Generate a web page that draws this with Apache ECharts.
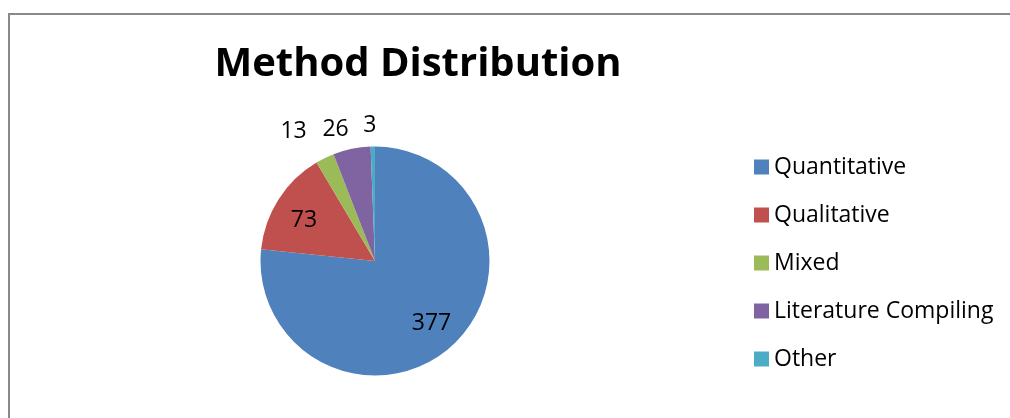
<!DOCTYPE html>
<html>
<head>
<meta charset="utf-8">
<script src="https://cdn.jsdelivr.net/npm/echarts@6/dist/echarts.min.js"></script>
<style>
  html, body { margin: 0; padding: 0; background: #fff; overflow: hidden; }
  #chart { position: relative; width: 1010px; height: 418px; }
  #frame {
    position: absolute; left: 8px; top: 13px;
    width: 1100px; height: 500px;
    border-top: 2px solid #898989;
    border-left: 2px solid #898989;
    pointer-events: none;
  }
</style>
</head>
<body>
<div id="chart"></div>
<div id="frame"></div>
<script>
// data
var methods = ['Quantitative', 'Qualitative', 'Mixed', 'Literature Compiling', 'Other'];
var counts = [377, 73, 13, 26, 3];
var colors = ['#4F81BD', '#C0504D', '#9BBB59', '#8064A2', '#4BACC6'];
// big slices carry the label inside, small ones outside
var inside = [true, true, false, false, false];
// label distance / nudges, so the labels sit like the original
var outLen = [0, 0, 30, 20, 21];
var outNudge = [0, 0, 0, 6, 9];
var inNudgeY = [0, 5, 0, 0, 0];

var chart = echarts.init(document.getElementById('chart'));
var font = '"Open Sans", sans-serif';

// visible pie, labels of the small slices outside
var pieData = methods.map(function (name, i) {
  return {
    name: name,
    value: counts[i],
    label: { show: !inside[i] },
    labelLine: { show: false, length: outLen[i], length2: 0 }
  };
});
// transparent ring, only used to put the inside labels further out
var ringData = methods.map(function (name, i) {
  return {
    name: name,
    value: counts[i],
    itemStyle: { color: 'rgba(0,0,0,0)' },
    label: { show: inside[i] }
  };
});

chart.setOption({
  animation: false,
  color: colors,
  title: {
    text: 'Method Distribution',
    left: 413,
    top: 40,
    textAlign: 'center',
    textStyle: { fontFamily: font, fontWeight: 'bold', fontSize: 40, color: '#000' }
  },
  legend: {
    orient: 'vertical',
    left: 749,
    top: 150,
    icon: 'rect',
    itemWidth: 15,
    itemHeight: 15,
    itemGap: 24,
    data: methods,
    textStyle: { fontFamily: font, fontSize: 23, lineHeight: 24, color: '#000' }
  },
  series: [
    {
      type: 'pie',
      center: [375, 261],
      radius: 114.5,
      startAngle: 90,
      clockwise: true,
      avoidLabelOverlap: false,
      silent: true,
      itemStyle: { borderWidth: 0 },
      label: {
        position: 'outside',
        formatter: '{c}',
        fontFamily: font,
        fontSize: 23,
        color: '#000'
      },
      labelLayout: function (p) {
        return { dx: outNudge[p.dataIndex] };
      },
      data: pieData
    },
    {
      type: 'pie',
      center: [375, 261],
      radius: [48, 114.5],
      startAngle: 90,
      clockwise: true,
      silent: true,
      label: {
        position: 'inside',
        formatter: '{c}',
        fontFamily: font,
        fontSize: 23,
        color: '#000'
      },
      labelLayout: function (p) {
        return { dy: inNudgeY[p.dataIndex] };
      },
      labelLine: { show: false },
      data: ringData
    }
  ]
});
</script>
</body>
</html>
